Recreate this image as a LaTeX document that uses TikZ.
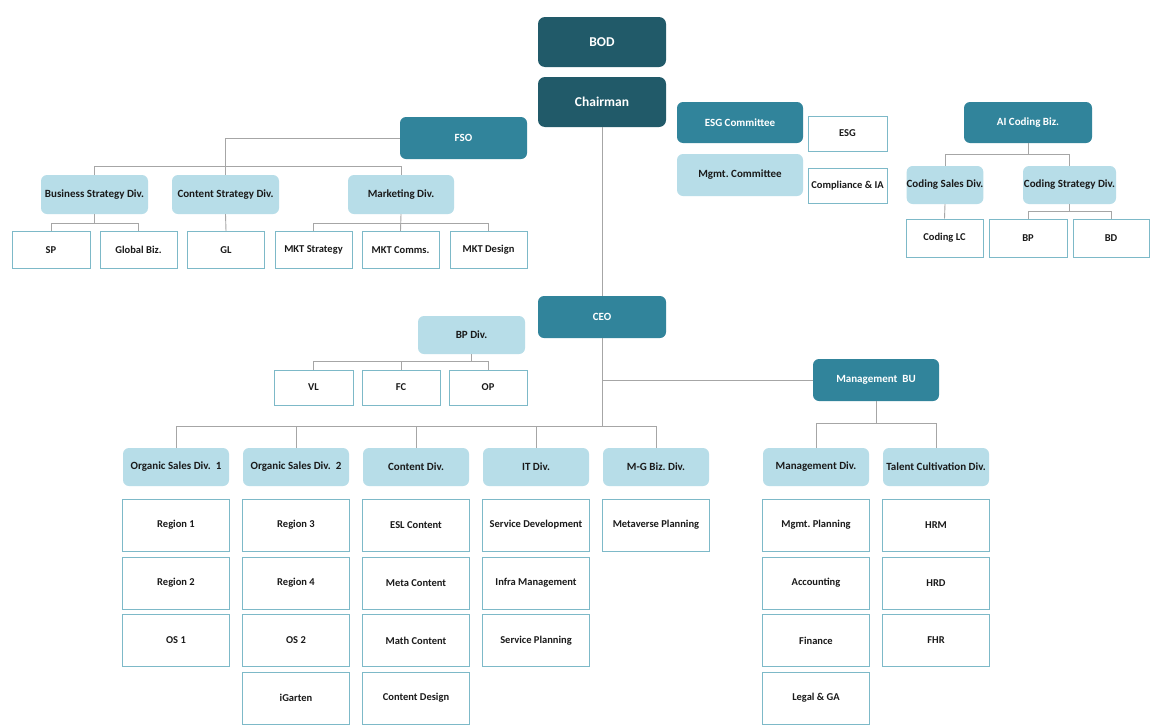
\documentclass[tikz,border=0pt]{standalone}
\usepackage{fontspec}
\setmainfont{Carlito}
\frenchspacing
\definecolor{cdark}{HTML}{215A69}
\definecolor{cmid}{HTML}{31849B}
\definecolor{clight}{HTML}{B7DDE8}
\definecolor{cleaf}{HTML}{7DB9C8}
\definecolor{cline}{HTML}{A6A6A6}
\definecolor{ctext}{HTML}{1A1A1A}
\tikzset{
  base/.style={rounded corners=6pt, inner sep=0pt, align=center},
  darkbox/.style={base, fill=cdark, text=white, rounded corners=7pt, font=\fontsize{13.5}{15}\selectfont\bfseries},
  midbox/.style={base, fill=cmid, text=white, font=\fontsize{11}{13}\selectfont\bfseries},
  lightbox/.style={base, fill=clight, text=ctext, font=\fontsize{11}{13}\selectfont\bfseries},
  leafbox/.style={draw=cleaf, line width=1pt, fill=white, inner sep=0pt, align=center, text=ctext, font=\fontsize{10.5}{12}\selectfont\bfseries},
  conn/.style={draw=cline, line width=0.9pt},
  sz/.style 2 args={minimum width=#1pt, minimum height=#2pt}
}
\begin{document}
\begin{tikzpicture}[x=1pt,y=-1pt]
\useasboundingbox[fill=white] (0,0) rectangle (1160,726);
% top
\node[darkbox, sz={128}{50}] (bod) at (602,42) {BOD};
\node[darkbox, sz={128}{50}] (chair) at (602,102) {Chairman};
\node[midbox, sz={126}{41}] (esgc) at (740,122.5) {ESG Committee};
\node[lightbox, sz={126}{42}] (mgc) at (740,175) {Mgmt. Committee};
\node[leafbox, sz={79}{35}] (esg) at (847.5,133.5) {ESG};
\node[leafbox, sz={79}{35}] (cia) at (847.5,185.5) {Compliance \& IA};
% FSO
\node[midbox, sz={127}{42}] (fso) at (463.5,138) {FSO};
\node[lightbox, sz={107}{39}] (bsd) at (94.5,194.5) {Business Strategy Div.};
\node[lightbox, sz={107}{39}] (csd) at (225.5,194.5) {Content Strategy Div.};
\node[lightbox, sz={106}{39}] (mkd) at (401,194.5) {Marketing Div.};
\node[leafbox, sz={78}{37}] (sp) at (51,250) {SP};
\node[leafbox, sz={77}{37}] (gb) at (138.5,250) {Global Biz.};
\node[leafbox, sz={77}{37}] (gl) at (226,250) {GL};
\node[leafbox, sz={77}{37}] (mks) at (313.5,250) {MKT Strategy};
\node[leafbox, sz={77}{37}] (mkc) at (400.5,250) {MKT Comms.};
\node[leafbox, sz={77}{37}] (mkg) at (488.5,250) {MKT Design};
\draw[conn] (fso.west) -| (csd.north);
\draw[conn] (bsd.north) -- ++(0,-8) -| (mkd.north);
\draw[conn] (bsd.south) -- ++(0,9);
\draw[conn] (sp.north) -- ++(0,-8) -| (gb.north);
\draw[conn] (csd.south) -- (gl.north);
\draw[conn] (mkd.south) -- (mkc.north);
\draw[conn] (mks.north) -- ++(0,-8) -| (mkg.north);
% AI Coding
\node[midbox, sz={128}{41}] (ai) at (1028,122.5) {AI Coding Biz.};
\node[lightbox, sz={76}{38}] (cs) at (945,185) {Coding Sales Div.};
\node[lightbox, sz={93}{38}] (cst) at (1069.5,185) {Coding Strategy Div.};
\node[leafbox, sz={77}{38}] (clc) at (944.5,238) {Coding LC};
\node[leafbox, sz={78}{38}] (bp) at (1028,238) {BP};
\node[leafbox, sz={76}{38}] (bd) at (1111,238) {BD};
\draw[conn] (ai.south) -- ++(0,12);
\draw[conn] (cs.north) -- ++(0,-11) -| (cst.north);
\draw[conn] (cs.south) -- (clc.north);
\draw[conn] (cst.south) -- ++(0,8);
\draw[conn] (bp.north) -- ++(0,-7) -| (bd.north);
% CEO
\node[midbox, sz={128}{42}] (ceo) at (602,317) {CEO};
\draw[conn] (chair.south) -- (ceo.north);
\node[lightbox, sz={107}{38}] (bpd) at (471.5,335) {BP Div.};
\node[leafbox, sz={79}{35}] (vl) at (313.5,387.5) {VL};
\node[leafbox, sz={78}{35}] (fc) at (401,387.5) {FC};
\node[leafbox, sz={78}{35}] (op) at (488,387.5) {OP};
\draw[conn] (bpd.south) -- ++(0,8);
\draw[conn] (vl.north) -- ++(0,-8) -| (op.north);
\draw[conn] (fc.north) -- ++(0,-8);
\node[midbox, sz={126}{42}] (mbu) at (876,380) {Management\ \ BU};
\draw[conn] (ceo.south) -- ++(0,89);
\draw[conn] (ceo.south |- mbu.west) -- (mbu.west);
% divisions
\node[lightbox, sz={106}{38}] (os1) at (176,467) {Organic Sales Div.\ \ 1};
\node[lightbox, sz={106}{38}] (os2) at (296,467) {Organic Sales Div.\ \ 2};
\node[lightbox, sz={106}{38}] (cd) at (416,467) {Content Div.};
\node[lightbox, sz={106}{38}] (itd) at (536,467) {IT Div.};
\node[lightbox, sz={106}{38}] (mg) at (656,467) {M-G Biz. Div.};
\node[lightbox, sz={106}{38}] (md) at (816,467) {Management Div.};
\node[lightbox, sz={106}{38}] (tcd) at (936,467) {Talent Cultivation Div.};
\draw[conn] (os1.north) -- ++(0,-21) -| (mg.north);
\draw[conn] (os2.north) -- ++(0,-21);
\draw[conn] (cd.north) -- ++(0,-21);
\draw[conn] (itd.north) -- ++(0,-21);
\draw[conn] (mbu.south) -- ++(0,23);
\draw[conn] (md.north) -- ++(0,-24) -| (tcd.north);
% leaf rows
\node[leafbox, sz={107}{52}] (r1) at (176,525) {Region 1};
\node[leafbox, sz={107}{52}] (r2) at (176,583) {Region 2};
\node[leafbox, sz={107}{52}] (o1) at (176,640.5) {OS 1};
\node[leafbox, sz={107}{52}] (r3) at (296,525) {Region 3};
\node[leafbox, sz={107}{52}] (r4) at (296,583) {Region 4};
\node[leafbox, sz={107}{52}] (o2) at (296,640.5) {OS 2};
\node[leafbox, sz={107}{52}] (ig) at (296,698) {iGarten};
\node[leafbox, sz={107}{52}] (esl) at (416,525) {ESL Content};
\node[leafbox, sz={107}{52}] (mc) at (416,583) {Meta Content};
\node[leafbox, sz={107}{52}] (mac) at (416,640.5) {Math Content};
\node[leafbox, sz={107}{52}] (cdz) at (416,698) {Content Design};
\node[leafbox, sz={107}{52}] (sd) at (536,525) {Service Development};
\node[leafbox, sz={107}{52}] (im) at (536,583) {Infra Management};
\node[leafbox, sz={107}{52}] (spl) at (536,640.5) {Service Planning};
\node[leafbox, sz={107}{52}] (mvp) at (656,525) {Metaverse Planning};
\node[leafbox, sz={107}{52}] (mp) at (816,525) {Mgmt. Planning};
\node[leafbox, sz={107}{52}] (acc) at (816,583) {Accounting};
\node[leafbox, sz={107}{52}] (fin) at (816,640.5) {Finance};
\node[leafbox, sz={107}{52}] (lga) at (816,698) {Legal \& GA};
\node[leafbox, sz={107}{52}] (hrm) at (936,525) {HRM};
\node[leafbox, sz={107}{52}] (hrd) at (936,583) {HRD};
\node[leafbox, sz={107}{52}] (fhr) at (936,640.5) {FHR};
\end{tikzpicture}
\end{document}
